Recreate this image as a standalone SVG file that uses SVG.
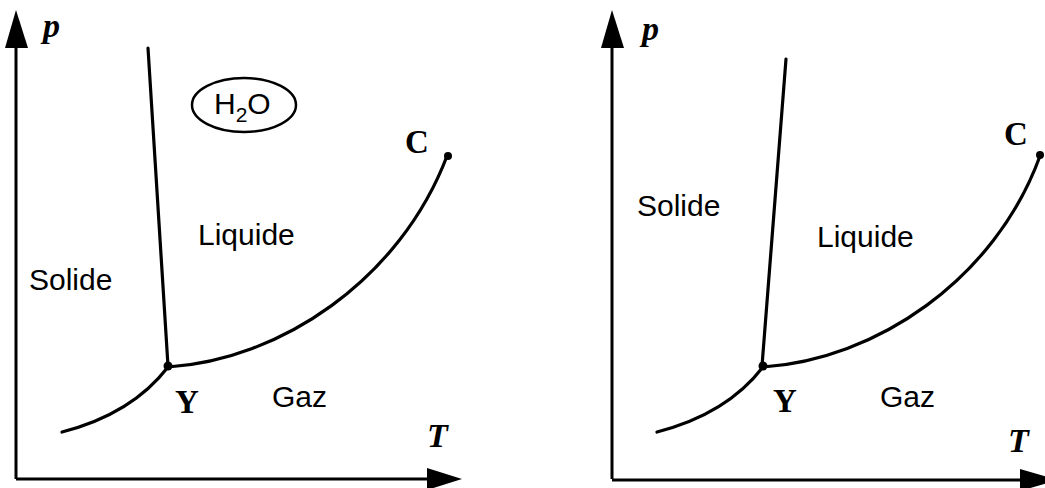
<svg xmlns="http://www.w3.org/2000/svg" width="1045" height="488" viewBox="0 0 1045 488">
<style>
.ax{stroke:#000;stroke-width:3;fill:none}
.cv{stroke:#000;stroke-width:3.2;fill:none;stroke-linecap:round}
.ah{fill:#000}
.lbl{font-family:"Liberation Sans",Arial,sans-serif;font-size:30px;fill:#000}
.sym{font-family:"Liberation Serif","Times New Roman",serif;font-size:33px;font-weight:bold;fill:#000}
.it{font-style:italic;font-size:34px}
</style>
<rect width="1045" height="488" fill="#fff"/>
<g id="diagram-left">
  <g id="axes-left">
    <line class="ax" x1="16" y1="479" x2="16" y2="40"/>
    <polygon class="ah" points="16,10 5,48 28,48"/>
    <line class="ax" x1="16" y1="479" x2="432" y2="479"/>
    <polygon class="ah" points="462,479 427,468 427,490"/>
    <text class="sym it" x="43" y="37">p</text>
    <text class="sym it" x="427" y="447">T</text>
  </g>
  <g id="curves-left">
    <line class="cv" x1="148" y1="48" x2="168" y2="366"/>
    <path class="cv" d="M62,432 Q132,414 168,367"/>
    <path class="cv" d="M168,367 C280,360 400,280 447,156"/>
  </g>
  <g id="points-left">
    <circle cx="168" cy="366" r="4.5"/>
    <circle cx="448" cy="156" r="4"/>
    <text class="sym" x="175" y="413">Y</text>
    <text class="sym" x="405" y="153">C</text>
  </g>
  <g id="labels-left">
    <text class="lbl" x="198" y="245">Liquide</text>
    <text class="lbl" x="29" y="290">Solide</text>
    <text class="lbl" x="272" y="407">Gaz</text>
  </g>
  <g id="h2o">
    <ellipse cx="244" cy="105" rx="52" ry="27" fill="none" stroke="#000" stroke-width="2.5"/>
    <text class="lbl" x="214" y="114" font-size="30">H<tspan font-size="21" dy="8">2</tspan><tspan dy="-8">O</tspan></text>
  </g>
</g>
<g id="diagram-right">
  <g id="axes-right">
    <line class="ax" x1="612" y1="479" x2="612" y2="40"/>
    <polygon class="ah" points="612,10 601,48 624,48"/>
    <line class="ax" x1="612" y1="480" x2="1030" y2="480"/>
    <polygon class="ah" points="1058,480 1020,469 1020,491"/>
    <text class="sym it" x="642" y="40">p</text>
    <text class="sym it" x="1008" y="452">T</text>
  </g>
  <g id="curves-right">
    <line class="cv" x1="786" y1="59" x2="762" y2="366"/>
    <path class="cv" d="M657,432 Q727,414 763,367"/>
    <path class="cv" d="M763,367 C875,360 995,280 1040,156"/>
  </g>
  <g id="points-right">
    <circle cx="763" cy="366" r="4.5"/>
    <circle cx="1040" cy="155" r="4"/>
    <text class="sym" x="773" y="412">Y</text>
    <text class="sym" x="1004" y="145">C</text>
  </g>
  <g id="labels-right">
    <text class="lbl" x="637" y="216">Solide</text>
    <text class="lbl" x="817" y="247">Liquide</text>
    <text class="lbl" x="880" y="407">Gaz</text>
  </g>
</g>
</svg>
